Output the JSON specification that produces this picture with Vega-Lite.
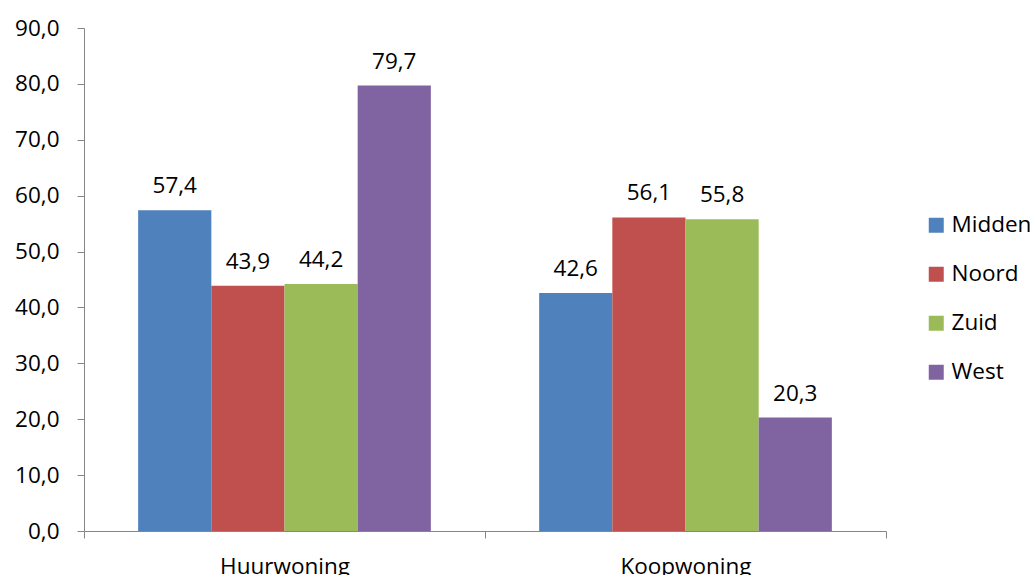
{
  "$schema": "https://vega.github.io/schema/vega-lite/v6.json",
  "width": 802,
  "height": 503,
  "autosize": {"type": "none"},
  "padding": {"left": 84, "top": 28, "right": 150, "bottom": 44},
  "background": "white",
  "config": {
    "locale": {"number": {"decimal": ",", "thousands": ".", "grouping": [3], "currency": ["€", ""]}},
    "view": {"stroke": null},
    "font": "Open Sans"
  },
  "data": {
    "values": [
      {"woning": "Huurwoning", "regio": "Midden", "waarde": 57.4},
      {"woning": "Huurwoning", "regio": "Noord", "waarde": 43.9},
      {"woning": "Huurwoning", "regio": "Zuid", "waarde": 44.2},
      {"woning": "Huurwoning", "regio": "West", "waarde": 79.7},
      {"woning": "Koopwoning", "regio": "Midden", "waarde": 42.6},
      {"woning": "Koopwoning", "regio": "Noord", "waarde": 56.1},
      {"woning": "Koopwoning", "regio": "Zuid", "waarde": 55.8},
      {"woning": "Koopwoning", "regio": "West", "waarde": 20.3}
    ]
  },
  "encoding": {
    "x": {
      "field": "woning", "type": "nominal",
      "scale": {"paddingInner": 0, "paddingOuter": 0},
      "axis": {
        "title": null, "labelAngle": 0, "tickBand": "extent", "tickSize": 7,
        "domainColor": "#868686", "tickColor": "#868686", "labelFontSize": 22.5,
        "labelColor": "#000000", "labelPadding": 17, "labelFont": "Open Sans"
      }
    },
    "xOffset": {
      "field": "regio", "type": "nominal",
      "sort": ["Midden", "Noord", "Zuid", "West"],
      "scale": {"paddingInner": 0, "paddingOuter": 0.74}
    },
    "y": {
      "field": "waarde", "type": "quantitative",
      "scale": {"domain": [0, 90], "nice": false},
      "axis": {
        "title": null, "values": [0, 10, 20, 30, 40, 50, 60, 70, 80, 90], "format": ".1f",
        "grid": false, "tickSize": 7, "domainColor": "#868686", "tickColor": "#868686",
        "labelFontSize": 22.5, "labelColor": "#000000", "labelPadding": 18, "labelFont": "Open Sans"
      }
    }
  },
  "layer": [
    {
      "mark": {"type": "bar"},
      "encoding": {
        "color": {
          "field": "regio", "type": "nominal",
          "sort": ["Midden", "Noord", "Zuid", "West"],
          "scale": {"domain": ["Midden", "Noord", "Zuid", "West"], "range": ["#4F81BD", "#C0504D", "#9BBB59", "#8064A2"]},
          "legend": {
            "title": null, "orient": "none", "legendX": 841, "legendY": 186,
            "symbolType": "square", "symbolSize": 225, "symbolStrokeWidth": 0,
            "labelFontSize": 22.5, "labelColor": "#000000", "labelFont": "Open Sans",
            "labelOffset": 4, "rowPadding": 26
          }
        }
      }
    },
    {
      "mark": {"type": "text", "fontSize": 22.5, "baseline": "alphabetic", "dy": -17, "color": "#000000", "font": "Open Sans"},
      "encoding": {
        "text": {"field": "waarde", "type": "quantitative", "format": ".1f"}
      }
    }
  ]
}
